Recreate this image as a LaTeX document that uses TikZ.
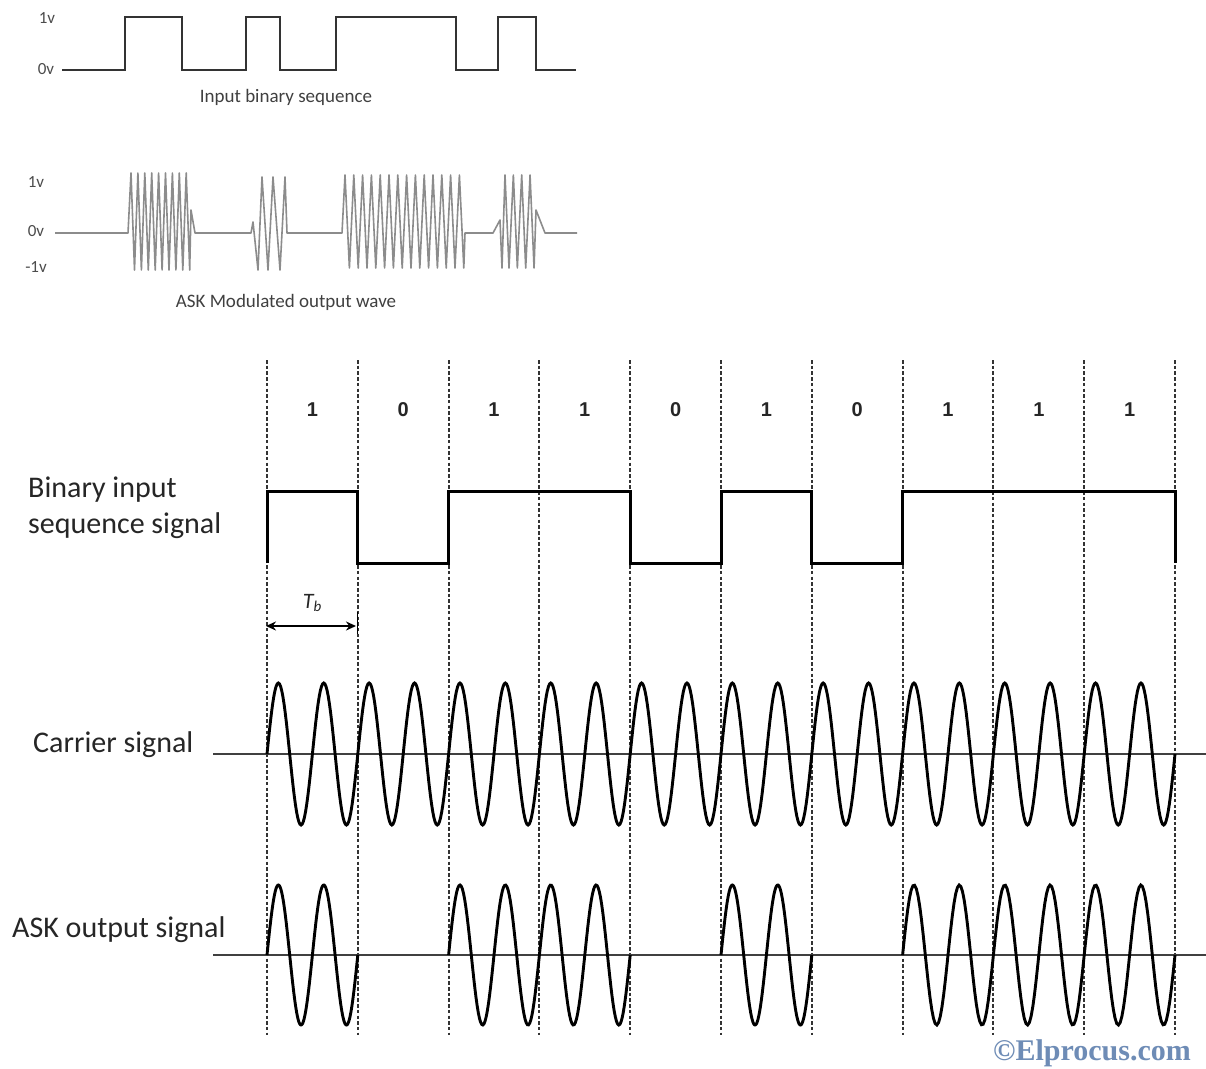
\documentclass[tikz,border=0pt]{standalone}
\usepackage{fontspec}
\setmainfont{Carlito}
\newfontfamily\arialf{Liberation Sans}
\newfontfamily\timesf{Liberation Serif}
\usetikzlibrary{arrows.meta}
\definecolor{txt}{HTML}{262626}
\definecolor{elp}{RGB}{110,140,182}
\tikzset{
  bitgrid/.style={draw=black!80, line width=1.9pt, dash pattern=on 3.5pt off 2.2pt},
  sigline/.style={line width=3pt, black, line join=miter},
  wave/.style={line width=2.9pt, black},
  axisline/.style={line width=1.7pt, black!75},
  lbl/.style={font=\fontsize{30}{36}\selectfont, text=txt, inner sep=0pt, anchor=west, align=left},
  bitlbl/.style={font=\arialf\bfseries\fontsize{20}{20}\selectfont, text=txt, inner sep=0pt},
  smalllbl/.style={font=\fontsize{17}{19}\selectfont, text=black!70, inner sep=0pt},
  caplbl/.style={font=\fontsize{19}{21}\selectfont, text=black!75, inner sep=0pt},
  sqw/.style={line width=2.4pt, black!80},
  modw/.style={line width=1.6pt, black!45, line join=round},
}
\begin{document}
\begin{tikzpicture}[x=1pt,y=-1pt]
\useasboundingbox (0,0) rectangle (1206,1068);
\fill[white] (0,0) rectangle (1206,1068);

% ---------- top small pictures ----------
\node[smalllbl] (v1a) at (47,18) {1v};
\node[smalllbl] (v0a) at (46,69) {0v};
\draw[sqw] (62,70) -- (125,70) -- (125,17) -- (182,17) -- (182,70) -- (246,70) -- (246,17) -- (280,17) -- (280,70) -- (336,70) -- (336,17) -- (456,17) -- (456,70) -- (498,70) -- (498,17) -- (536,17) -- (536,70) -- (576,70);
\node[caplbl] (ibs) at (286,97) {Input binary sequence};

\node[smalllbl] (v1b) at (36,182) {1v};
\node[smalllbl] (v0b) at (36,231) {0v};
\node[smalllbl] (vmb) at (36,267) {-1v};
\draw[modw] (55,233) -- (128,233)
  \foreach \k in {0,...,8}{ -- ({131+6.9*\k},173) -- ({134.5+6.9*\k},270)}
  -- (191,210) -- (195,233) -- (251,233) -- (253,222) -- (258,270) -- (262,177) -- (268,270) -- (273,177) -- (280,270) -- (285,177) -- (287,233) -- (342,233)
  \foreach \k in {0,...,13}{ -- ({345+8.8*\k},175) -- ({349.4+8.8*\k},268)}
  -- (465,233) -- (493,233) -- (500,220) -- (502,268)
  \foreach \k in {0,...,3}{ -- ({505+8.35*\k},175) -- ({509+8.35*\k},268)}
  -- (536,210) -- (545,233) -- (577,233);
\node[caplbl] (amw) at (286,302) {ASK Modulated output wave};

% ---------- main diagram ----------
\foreach \i in {0,...,10}{
  \draw[bitgrid] ({267+90.8*\i},360) -- ({267+90.8*\i},1035);
}
\foreach \b [count=\i from 0] in {1,0,1,1,0,1,0,1,1,1}{
  \node[bitlbl] (bit\i) at ({267+90.8*\i+45.4},410) {\b};
}

\node[lbl] (binlbl) at (28,508) {Binary input\\sequence signal};
\draw[sigline] (267,563) -- (267,491) -- (357.8,491) -- (357.8,563) -- (448.6,563) -- (448.6,491) -- (630.2,491) -- (630.2,563) -- (721,563) -- (721,491) -- (811.8,491) -- (811.8,563) -- (902.6,563) -- (902.6,491) -- (1175,491) -- (1175,563);

\node[font=\itshape\fontsize{22}{22}\selectfont, text=txt, inner sep=0pt] (tb) at (312,603) {T\raisebox{-0.35ex}{\fontsize{15}{15}\selectfont b}};
\coordinate (tba) at (266,626);
\coordinate (tbb) at (356,626);
\draw[line width=1.8pt, {Stealth[length=10pt,width=9pt]}-{Stealth[length=10pt,width=9pt]}] (tba) -- (tbb);
\draw[line width=1.3pt] (357.5,612) -- (357.5,634);

\node[lbl] (carlbl) at (33,745) {Carrier signal};
\draw[axisline] (213,754) -- (1206,754);
\draw[wave] plot[domain=267:1175, samples=801] (\x, {754-71*sin((\x-267)/45.4*360)});

\node[lbl] (asklbl) at (12,930) {ASK output signal};
\draw[axisline] (213,955) -- (1206,955);
\foreach \a/\c in {267/357.8, 448.6/630.2, 721/811.8, 902.6/1175}{
  \draw[wave] plot[domain=\a:\c, samples=160] (\x, {955-70*sin((\x-267)/45.4*360)});
}

\node[font=\timesf\bfseries\fontsize{30}{30}\selectfont, text=elp, inner sep=0pt] (elp) at (1092,1053) {©Elprocus.com};
\end{tikzpicture}
\end{document}
